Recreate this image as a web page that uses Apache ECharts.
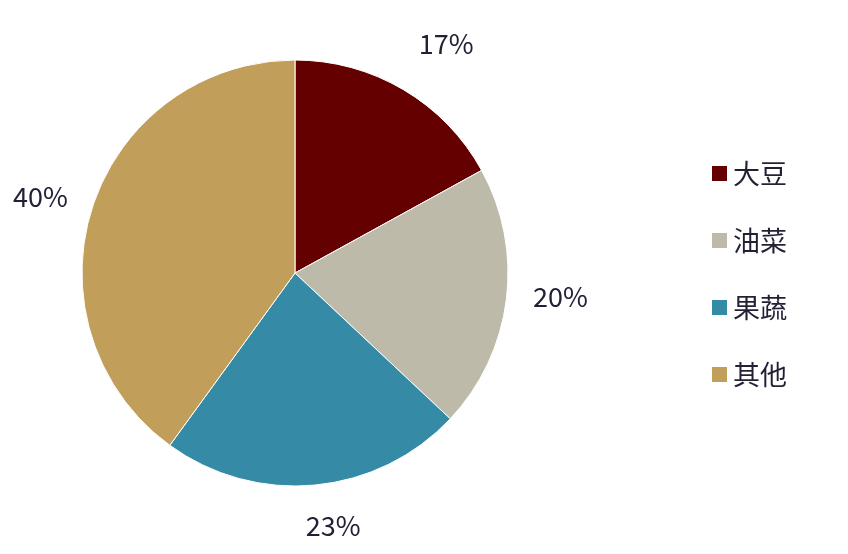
<!DOCTYPE html>
<html>
<head>
<meta charset="utf-8">
<script src="https://cdn.jsdelivr.net/npm/echarts@6/dist/echarts.min.js"></script>
<style>
html,body{margin:0;padding:0;background:#fff;}
#main{width:848px;height:554px;}
</style>
</head>
<body>
<div id="main"></div>
<script>
const categories = ['大豆', '油菜', '果蔬', '其他'];
const values = [17, 20, 23, 40];
const colors = ['#650000', '#bebaaa', '#358ba6', '#c19f5a'];

const labelNudge = [[0, -20], [-3, -7], [-12, 11], [4, -1]];

const chart = echarts.init(document.getElementById('main'));
chart.setOption({
  backgroundColor: '#ffffff',
  animation: false,
  color: colors,
  legend: {
    orient: 'vertical',
    left: 705,
    top: 155,
    itemWidth: 17,
    itemHeight: 17,
    itemGap: 40,
    icon: 'rect',
    data: categories,
    textStyle: {
      fontFamily: 'Noto Sans CJK SC',
      fontSize: 27,
      lineHeight: 27,
      color: '#231f35',
      padding: [0, 0, 0, 0]
    }
  },
  series: [{
    type: 'pie',
    center: [295, 273],
    radius: 213,
    startAngle: 90,
    clockwise: true,
    itemStyle: { borderColor: '#ffffff', borderWidth: 1 },
    label: {
      show: true,
      position: 'outside',
      formatter: '{c}%',
      fontFamily: 'Noto Sans CJK SC',
      fontSize: 27,
      color: '#231f35',
      distanceToLabelLine: 0,
      overflow: 'none',
      edgeDistance: 0
    },
    labelLine: { show: false, length: 30, length2: 0 },
    labelLayout: function (p) {
      const n = labelNudge[p.dataIndex];
      return { dx: n[0], dy: n[1] };
    },
    emphasis: { disabled: true },
    data: categories.map((n, i) => ({ name: n, value: values[i] }))
  }]
});
</script>
</body>
</html>
